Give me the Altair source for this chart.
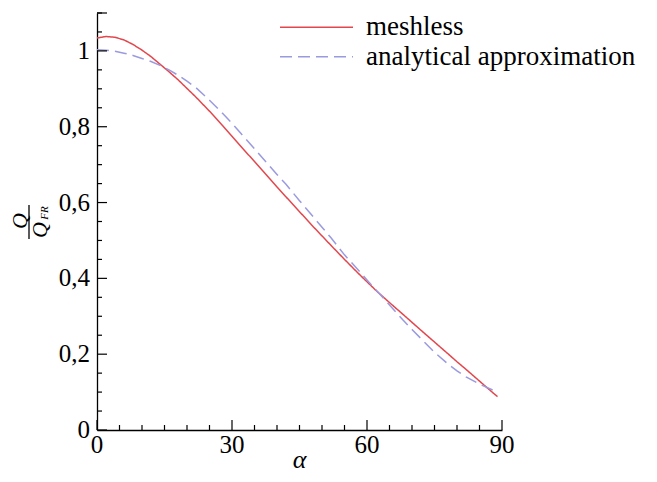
import altair as alt
import pandas as pd

# ---- data ----
alpha = [0, 2, 4, 6, 8, 10, 12, 14, 16, 18, 20, 22, 25, 28, 30, 32, 35, 38, 40, 42,
         45, 48, 50, 52, 55, 58, 60, 62, 65, 68, 70, 72, 75, 78, 80, 82, 85, 88, 89]
meshless = [1.034, 1.038, 1.036, 1.029, 1.017, 1.002, 0.985, 0.965, 0.945, 0.924,
            0.901, 0.878, 0.841, 0.802, 0.775, 0.748, 0.708, 0.668, 0.641, 0.615,
            0.576, 0.537, 0.512, 0.487, 0.450, 0.414, 0.391, 0.368, 0.336, 0.305,
            0.284, 0.263, 0.232, 0.201, 0.180, 0.160, 0.129, 0.098, 0.088]
analytical = [1.003, 1.002, 0.999, 0.994, 0.988, 0.980, 0.972, 0.962, 0.950, 0.936,
              0.920, 0.903, 0.870, 0.834, 0.809, 0.782, 0.742, 0.701, 0.674, 0.648,
              0.605, 0.563, 0.535, 0.507, 0.462, 0.423, 0.396, 0.369, 0.330, 0.290,
              0.265, 0.241, 0.205, 0.174, 0.156, 0.140, 0.121, 0.105, 0.101]
series_names = ["meshless", "analytical approximation"]
series_colors = ["#e2474d", "#9a9ae0"]
series_dash = [[1, 0], [12, 6]]

x_label_values = [0, 30, 60, 90]
x_label_texts = ["0", "30", "60", "90"]
y_label_values = [0, 0.2, 0.4, 0.6, 0.8, 1]
y_label_texts = ["0", "0,2", "0,4", "0,6", "0,8", "1"]
x_minor = [v for v in range(0, 91, 5) if v % 30 != 0]
x_major = [0, 30, 60, 90]
y_minor = [round(i * 0.05, 2) for i in range(0, 23) if i % 4 != 0]
y_major = [0, 0.2, 0.4, 0.6, 0.8, 1.0, 1.1]
x_title = "α"

W, H = 405, 417
FONT = "Liberation Serif"

rows = []
for a, m, q in zip(alpha, meshless, analytical):
    rows.append({"alpha": a, "Q": m, "series": series_names[0]})
    rows.append({"alpha": a, "Q": q, "series": series_names[1]})
df = pd.DataFrame(rows)

xs = alt.Scale(domain=[0, 90], nice=False)
ys = alt.Scale(domain=[0, 1.1], nice=False)

xaxis = alt.Axis(labels=False, ticks=False, title=None)
yaxis = alt.Axis(labels=False, ticks=False, title=None)

lines = alt.Chart(df).mark_line(strokeWidth=1.5).encode(
    x=alt.X("alpha:Q", scale=xs, axis=xaxis, title=None),
    y=alt.Y("Q:Q", scale=ys, axis=yaxis, title=None),
    color=alt.Color("series:N", scale=alt.Scale(domain=series_names, range=series_colors),
                    legend=None),
    strokeDash=alt.StrokeDash("series:N", scale=alt.Scale(domain=series_names, range=series_dash),
                              legend=None),
    order="alpha:Q",
)

def xtick(vals, ln):
    return alt.Chart(pd.DataFrame({"alpha": vals})).mark_rule(color="black", strokeWidth=1.2).encode(
        x=alt.X("alpha:Q", scale=xs, title=None), y=alt.value(H), y2=alt.value(H - ln))

def ytick(vals, ln):
    return alt.Chart(pd.DataFrame({"Q": vals})).mark_rule(color="black", strokeWidth=1.2).encode(
        y=alt.Y("Q:Q", scale=ys, title=None), x=alt.value(0), x2=alt.value(ln))

xlab = alt.Chart(pd.DataFrame({"alpha": x_label_values, "t": x_label_texts})).mark_text(
    font=FONT, fontSize=25, align="center", baseline="middle", color="black"
).encode(x=alt.X("alpha:Q", scale=xs, title=None), y=alt.value(H + 15), text="t:N")
ylab = alt.Chart(pd.DataFrame({"Q": y_label_values, "t": y_label_texts})).mark_text(
    font=FONT, fontSize=25, align="right", baseline="middle", color="black"
).encode(y=alt.Y("Q:Q", scale=ys, title=None), x=alt.value(-7), text="t:N")
xtitle = alt.Chart(pd.DataFrame({"t": [x_title]})).mark_text(
    font=FONT, fontSize=26, fontStyle="italic", align="center", baseline="middle", color="black"
).encode(text="t:N", x=alt.value(W / 2), y=alt.value(H + 30))

# legend (drawn manually)
leg_y = [14.3, 43.7]
legend_lines = []
legend_texts = []
for name, col, dash, ly in zip(series_names, series_colors, series_dash, leg_y):
    legend_lines.append(
        alt.Chart(pd.DataFrame({"s": [name]})).mark_rule(
            color=col, strokeWidth=1.5, strokeDash=dash
        ).encode(x=alt.value(183), x2=alt.value(256), y=alt.value(ly))
    )
    legend_texts.append(
        alt.Chart(pd.DataFrame({"s": [name]})).mark_text(
            font=FONT, fontSize=27, align="left", baseline="alphabetic", color="black"
        ).encode(text="s:N", x=alt.value(269), y=alt.value(ly + 8))
    )

# y-axis title: fraction Q / Q_FR, rotated
num = alt.Chart(pd.DataFrame({"t": ["Q"]})).mark_text(
    font=FONT, fontStyle="italic", fontSize=22, angle=270, align="center", baseline="middle"
).encode(text="t:N", x=alt.value(-77), y=alt.value(208))
bar = alt.Chart(pd.DataFrame({"t": [1]})).mark_rule(color="black", strokeWidth=1.3).encode(
    x=alt.value(-68), y=alt.value(192), y2=alt.value(226))
den = alt.Chart(pd.DataFrame({"t": ["Q"]})).mark_text(
    font=FONT, fontStyle="italic", fontSize=22, angle=270, align="center", baseline="middle"
).encode(text="t:N", x=alt.value(-57), y=alt.value(217))
sub = alt.Chart(pd.DataFrame({"t": ["FR"]})).mark_text(
    font=FONT, fontStyle="italic", fontSize=11, angle=270, align="center", baseline="middle"
).encode(text="t:N", x=alt.value(-52), y=alt.value(200))

chart = alt.layer(
    lines, xtick(x_major, 10), xtick(x_minor, 5), ytick(y_major, 10), ytick(y_minor, 5),
    xlab, ylab, xtitle, *legend_lines, *legend_texts, num, bar, den, sub
).properties(
    width=W, height=H,
    autosize=alt.AutoSizeParams(type="none"),
    padding={"left": 89, "top": 5, "right": 140, "bottom": 44},
).configure_view(stroke=None).configure_axis(
    grid=False, ticks=False, domainColor="black", domainWidth=1.3,
    labelColor="black", titleColor="black",
)

chart.save("out.html", embed_options={"renderer": "svg", "actions": False})
